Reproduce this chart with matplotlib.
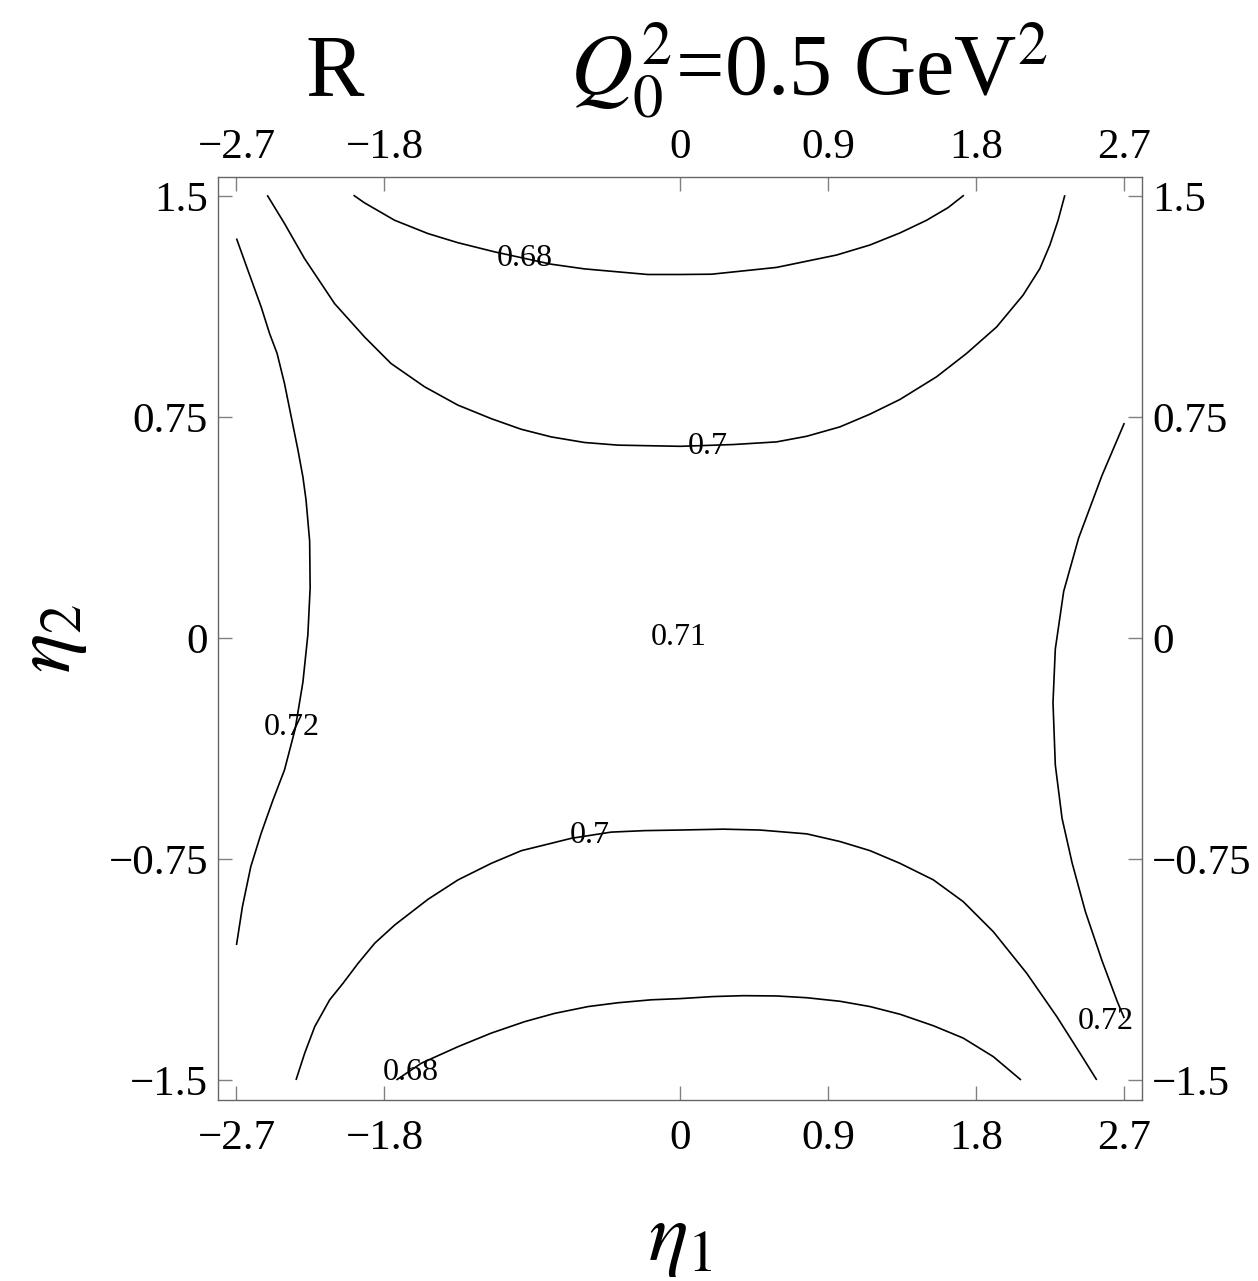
import matplotlib
matplotlib.use("Agg")
import matplotlib.pyplot as plt
import matplotlib.transforms as mtransforms

plt.rcParams['font.family'] = ['Liberation Serif', 'DejaVu Serif']
plt.rcParams['mathtext.fontset'] = 'stix'

# Contour traces of R in the (eta1, eta2) plane
top_068_x = [-1.988, -1.921, -1.738, -1.536, -1.354, -1.131, -0.786, -0.583, -0.198, 0.0,
             0.190, 0.585, 0.950, 1.153, 1.336, 1.498, 1.629, 1.725]
top_068_y = [1.502, 1.476, 1.417, 1.372, 1.341, 1.310, 1.268, 1.252, 1.233, 1.233,
             1.234, 1.257, 1.299, 1.333, 1.374, 1.417, 1.460, 1.502]

top_070_x = [-2.513, -2.408, -2.286, -2.103, -1.921, -1.760, -1.556, -1.354, -1.151, -0.969,
             -0.786, -0.583, -0.380, 0.0, 0.321, 0.585, 0.768, 0.971, 1.153, 1.336,
             1.559, 1.741, 1.924, 2.085, 2.187, 2.248, 2.298, 2.339]
top_070_y = [1.502, 1.406, 1.287, 1.134, 1.021, 0.931, 0.852, 0.790, 0.744, 0.708,
             0.682, 0.663, 0.654, 0.650, 0.656, 0.665, 0.684, 0.716, 0.759, 0.809,
             0.886, 0.965, 1.055, 1.163, 1.253, 1.333, 1.417, 1.502]

left_072_x = [-2.700, -2.631, -2.550, -2.499, -2.453, -2.408, -2.367, -2.326, -2.296, -2.277,
              -2.255, -2.252, -2.266, -2.296, -2.343, -2.408, -2.478, -2.550, -2.613, -2.664,
              -2.700]
left_072_y = [1.355, 1.248, 1.123, 1.033, 0.965, 0.863, 0.750, 0.637, 0.546, 0.468,
              0.328, 0.169, 0.010, -0.150, -0.309, -0.448, -0.550, -0.663, -0.776, -0.912,
              -1.042]

right_072_x = [2.701, 2.565, 2.423, 2.332, 2.281, 2.267, 2.281, 2.322, 2.383, 2.464,
               2.565, 2.656, 2.700]
right_072_y = [0.729, 0.551, 0.339, 0.158, -0.038, -0.220, -0.431, -0.612, -0.763, -0.929,
               -1.095, -1.231, -1.290]

bottom_070_x = [-2.338, -2.285, -2.224, -2.133, -2.052, -1.960, -1.859, -1.737, -1.535, -1.352,
                -1.150, -0.967, -0.785, -0.663, -0.420, -0.217, -0.002, 0.262, 0.485, 0.769,
                0.971, 1.154, 1.336, 1.539, 1.721, 1.904, 2.107, 2.290, 2.431, 2.533]
bottom_070_y = [-1.500, -1.409, -1.319, -1.228, -1.172, -1.104, -1.036, -0.974, -0.887, -0.821,
                -0.765, -0.722, -0.697, -0.680, -0.659, -0.654, -0.652, -0.649, -0.652, -0.665,
                -0.691, -0.722, -0.765, -0.821, -0.895, -0.997, -1.138, -1.285, -1.409, -1.500]

bottom_068_x = [-1.727, -1.575, -1.352, -1.150, -0.946, -0.764, -0.561, -0.379, -0.176, -0.002,
                0.201, 0.383, 0.586, 0.769, 0.971, 1.154, 1.336, 1.539, 1.721, 1.904, 2.072]
bottom_068_y = [-1.500, -1.443, -1.387, -1.341, -1.302, -1.274, -1.251, -1.238, -1.228, -1.224,
                -1.217, -1.214, -1.215, -1.221, -1.233, -1.251, -1.277, -1.316, -1.358, -1.421,
                -1.500]

# Contour value labels and where they sit
label_text = ["0.68", "0.7", "0.71", "0.72", "0.72", "0.7", "0.68"]
label_x = [-0.946, 0.167, -0.008, -2.363, 2.590, -0.549, -1.642]
label_y = [1.287, 0.648, 0.0, -0.305, -1.300, -0.672, -1.475]

# Frame ticks
x_ticks = [-2.7, -1.8, 0.0, 0.9, 1.8, 2.7]
x_tick_labels = ["\u22122.7", "\u22121.8", "0", "0.9", "1.8", "2.7"]
y_ticks = [-1.5, -0.75, 0.0, 0.75, 1.5]
y_tick_labels = ["\u22121.5", "\u22120.75", "0", "0.75", "1.5"]

fig = plt.figure(figsize=(12.58, 12.81), dpi=100)
ax = fig.add_axes([0.1731, 0.1413, 0.7349, 0.7208])

curves = [(top_068_x, top_068_y), (top_070_x, top_070_y),
          (left_072_x, left_072_y), (right_072_x, right_072_y),
          (bottom_070_x, bottom_070_y), (bottom_068_x, bottom_068_y)]
for cx, cy in curves:
    ax.plot(cx, cy, color='black', lw=1.2, solid_capstyle='butt')

for t, lx, ly in zip(label_text, label_x, label_y):
    ax.text(lx, ly, t, ha='center', va='center', fontsize=23, color='black')

ax.set_xlim(-2.814, 2.810)
ax.set_ylim(-1.568, 1.565)

ax.set_xticks(x_ticks)
ax.set_xticklabels(x_tick_labels)
ax.set_yticks(y_ticks)
ax.set_yticklabels(y_tick_labels)
ax.tick_params(axis='both', which='major', direction='in', length=10, width=1.0,
               color='#808080', labelsize=31, top=True, right=True,
               labeltop=True, labelright=True)
ax.tick_params(axis='x', pad=7)
ax.tick_params(axis='y', pad=7)
for sp in ax.spines.values():
    sp.set_color('#666666')
    sp.set_linewidth(1.0)

# bottom frame labels sit a little further from the frame than the top ones
shift_down = mtransforms.ScaledTranslation(0, -10 / 100, fig.dpi_scale_trans)
for tick in ax.xaxis.get_major_ticks():
    tick.label1.set_transform(tick.label1.get_transform() + shift_down)

ax.set_ylabel(r"$\eta_2$", fontsize=60, labelpad=14)

fig.text(335 / 1258, 1 - 95 / 1281, "R", fontsize=63, ha='center', va='baseline')
fig.text(570 / 1258, 1 - 95 / 1281, r"$Q_0^2$=0.5 GeV$^2$", fontsize=62,
         ha='left', va='baseline')
fig.text(680 / 1258, 1 - 1260 / 1281, r"$\eta_1$", fontsize=60,
         ha='center', va='baseline')

fig.savefig("out.png", dpi=100)
